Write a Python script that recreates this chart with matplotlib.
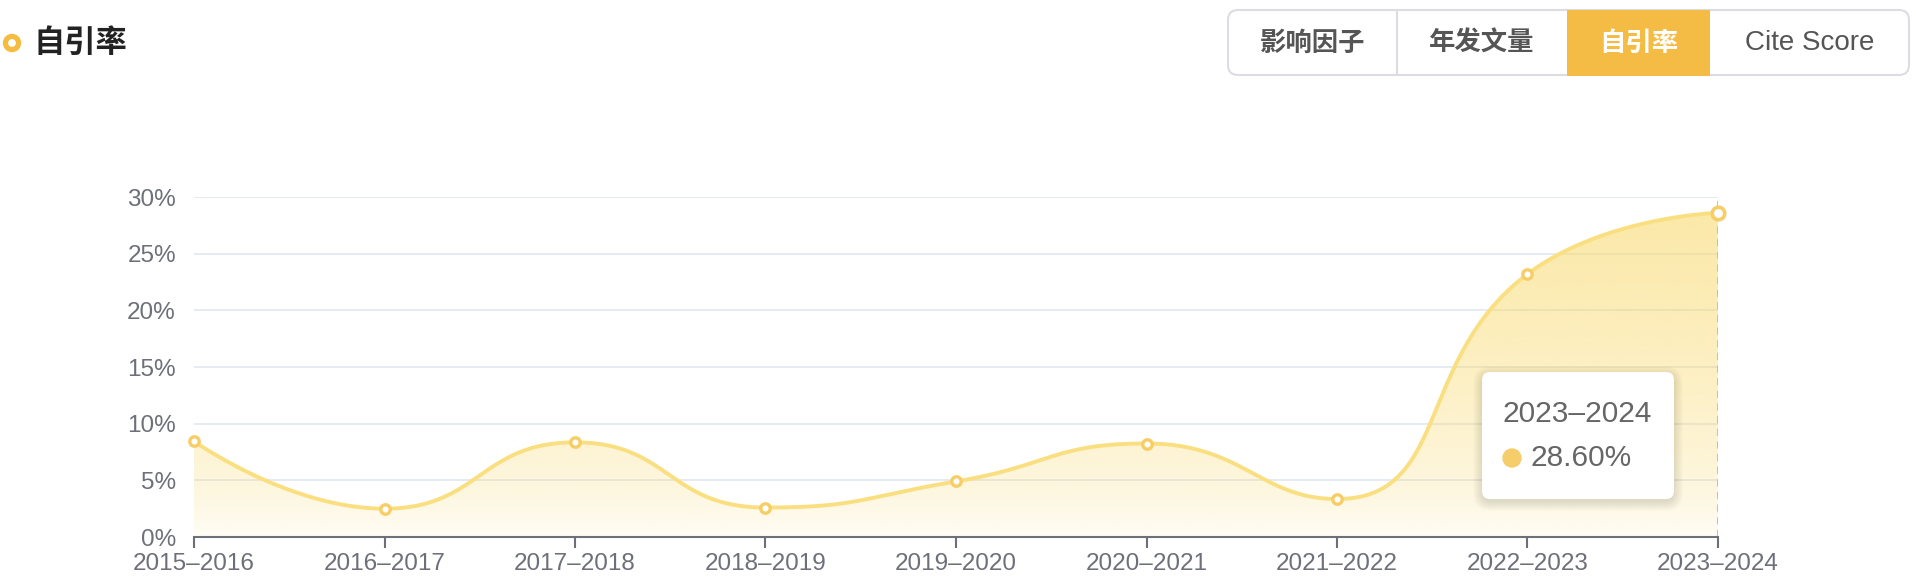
import numpy as np
import matplotlib
matplotlib.use("Agg")
import matplotlib.pyplot as plt
from matplotlib.patches import FancyBboxPatch, Circle, Polygon, Rectangle
from matplotlib.colors import to_rgb

plt.rcParams['font.family'] = ['Liberation Sans', 'Noto Sans CJK SC', 'DejaVu Sans']

# data
years = ['2015–2016', '2016–2017', '2017–2018', '2018–2019', '2019–2020',
         '2020–2021', '2021–2022', '2022–2023', '2023–2024']
self_cite = [8.45, 2.5, 8.35, 2.6, 4.9, 8.25, 3.35, 23.2, 28.6]
y_ticks = [0, 5, 10, 15, 20, 25, 30]
tabs = ['影响因子', '年发文量', '自引率', 'Cite Score']

LINE = '#FADF80'
MARK = '#F7CD68'
AXC = '#6E7079'
ORANGE = '#F4BC45'

# pixel scale used for echarts-like smoothing
SX = (1718 - 194) / 8.0
SY = (537 - 197) / 30.0


def echarts_smooth(xs, ys, smooth=0.5, n=50):
    pts = [(x * SX, y * SY) for x, y in zip(xs, ys)]
    N = len(pts)
    out = [pts[0]]
    cp1 = pts[0]
    prev = pts[0]
    t = np.linspace(0, 1, n)[1:]
    for k in range(1, N):
        x, y = pts[k]
        px, py = prev
        if k == N - 1:
            cp0 = (x, y)
            ncp = (x, y)
        else:
            nx, ny = pts[k + 1]
            vx, vy = nx - px, ny - py
            d0 = np.hypot(x - px, y - py)
            d1 = np.hypot(nx - x, ny - y)
            r = d1 / (d0 + d1)
            ncx = x + vx * smooth * r
            ncy = y + vy * smooth * r
            ncx = max(min(ncx, max(nx, x)), min(nx, x))
            ncy = max(min(ncy, max(ny, y)), min(ny, y))
            vx, vy = ncx - x, ncy - y
            c0x = x - vx * d0 / d1
            c0y = y - vy * d0 / d1
            c0x = max(min(c0x, max(px, x)), min(px, x))
            c0y = max(min(c0y, max(py, y)), min(py, y))
            vx, vy = x - c0x, y - c0y
            ncp = (x + vx * d1 / d0, y + vy * d1 / d0)
            cp0 = (c0x, c0y)
        p0 = np.array(prev); c1 = np.array(cp1); c2 = np.array(cp0); p3 = np.array((x, y))
        for tt in t:
            b = ((1 - tt) ** 3) * p0 + 3 * ((1 - tt) ** 2) * tt * c1 + 3 * (1 - tt) * tt ** 2 * c2 + tt ** 3 * p3
            out.append(tuple(b))
        cp1 = ncp
        prev = (x, y)
    arr = np.array(out)
    return arr[:, 0] / SX, arr[:, 1] / SY


fig = plt.figure(figsize=(19.16, 5.78), dpi=100)
fig.patch.set_facecolor('white')

ax = fig.add_axes([194 / 1916, 1 - 537 / 578, (1718 - 194) / 1916, (537 - 197) / 578])
ax.set_xlim(0, len(years) - 1)
ax.set_ylim(0, 30)

xi = np.arange(len(years))
cx, cy = echarts_smooth(xi, self_cite)

# grid
for v in y_ticks[1:]:
    ax.axhline(v, color='#E0E6F1', lw=1.2, zorder=1)

# gradient fill under the curve
top = max(self_cite)
h = np.linspace(0, 1, 256)
alpha = 0.04 + 0.56 * h ** 0.6
rgb = to_rgb('#F9DA6E')
grad = np.zeros((256, 1, 4))
grad[:, 0, 0], grad[:, 0, 1], grad[:, 0, 2] = rgb
grad[:, 0, 3] = alpha
poly = Polygon(np.column_stack([np.r_[cx, cx[-1], cx[0]], np.r_[cy, 0, 0]]),
               closed=True, facecolor='none', edgecolor='none')
ax.add_patch(poly)
im = ax.imshow(grad, extent=(0, len(years) - 1, 0, top), origin='lower',
               aspect='auto', zorder=2, interpolation='bilinear')
im.set_clip_path(poly)

# hover pointer line
ax.axvline(len(years) - 1, color='#B7BACB', lw=1.3, ls=(0, (4, 3)), zorder=3)

ax.plot(cx, cy, color=LINE, lw=2.8, zorder=4, solid_capstyle='round', clip_on=False)
ax.plot(xi[:-1], self_cite[:-1], 'o', ms=6.8, mfc='white', mec=MARK, mew=2.4,
        zorder=5, clip_on=False)
ax.plot(xi[-1:], self_cite[-1:], 'o', ms=9, mfc='white', mec=MARK, mew=2.6,
        zorder=5, clip_on=False)

for s in ['top', 'right', 'left']:
    ax.spines[s].set_visible(False)
ax.spines['bottom'].set_color(AXC)
ax.spines['bottom'].set_linewidth(1.5)
ax.spines['bottom'].set_zorder(6)

ax.set_xticks(xi)
ax.set_xticklabels(years)
ax.set_yticks(y_ticks)
ax.set_yticklabels([f'{v}%' for v in y_ticks])
ax.tick_params(axis='x', length=8, width=1.5, color=AXC, labelcolor=AXC,
               labelsize=17.5, pad=3.5)
ax.tick_params(axis='y', length=0, labelcolor=AXC, labelsize=17.5, pad=13)
ax.set_facecolor('none')

# overlay for header / tooltip
ov = fig.add_axes([0, 0, 1, 1], zorder=10)
ov.set_xlim(0, 1916)
ov.set_ylim(578, 0)
ov.axis('off')
ov.patch.set_alpha(0)

# title
ov.add_patch(Circle((12, 43), 8.5, color='#F5BC41'))
ov.add_patch(Circle((12, 43), 3.2, color='white'))
ov.text(34, 43, '自引率', fontsize=22.5, fontweight='bold', color='#222222',
        va='center', ha='left', family=['Noto Sans CJK SC'])

# tab buttons
bx0, bx1, by0, by1 = 1228, 1909, 10, 75
edges = [1228, 1397, 1567, 1710, 1909]
ov.add_patch(FancyBboxPatch((bx0, by0), bx1 - bx0, by1 - by0,
                            boxstyle='round,pad=0,rounding_size=10',
                            facecolor='white', edgecolor='#DCDDE2', lw=1.5))
ov.add_patch(Rectangle((edges[2], by0 - 0.5), edges[3] - edges[2], by1 - by0 + 1,
                       facecolor=ORANGE, edgecolor='none'))
ov.plot([edges[1], edges[1]], [by0, by1], color='#DCDDE2', lw=1.5)
for i, lab in enumerate(tabs):
    xc = (edges[i] + edges[i + 1]) / 2
    col = 'white' if i == 2 else '#555555'
    if i == 3:
        ov.text(xc, 43, lab, fontsize=20, color='#555555', ha='center', va='center',
                family=['Liberation Sans'])
    else:
        ov.text(xc, 43, lab, fontsize=19, fontweight='bold', color=col,
                ha='center', va='center', family=['Noto Sans CJK SC'])

# tooltip
tx0, tx1, ty0, ty1 = 1482, 1674, 372, 499
for k in range(10, 0, -1):
    ov.add_patch(FancyBboxPatch((tx0 - k + 1, ty0 - k + 4), tx1 - tx0 + 2 * k - 2, ty1 - ty0 + 2 * k - 2,
                                boxstyle='round,pad=0,rounding_size=%d' % (8 + k),
                                facecolor='#000000', edgecolor='none', alpha=0.012))
ov.add_patch(FancyBboxPatch((tx0, ty0), tx1 - tx0, ty1 - ty0,
                            boxstyle='round,pad=0,rounding_size=8',
                            facecolor='white', edgecolor='none'))
ov.text(1503, 414, years[-1], fontsize=21.5, color='#666666', va='center', ha='left')
ov.add_patch(Circle((1512, 458), 9, color='#F6CD6B'))
ov.text(1531, 458, f'{self_cite[-1]:.2f}%', fontsize=21.5, color='#666666',
        va='center', ha='left')

fig.savefig('out.png', dpi=100)
